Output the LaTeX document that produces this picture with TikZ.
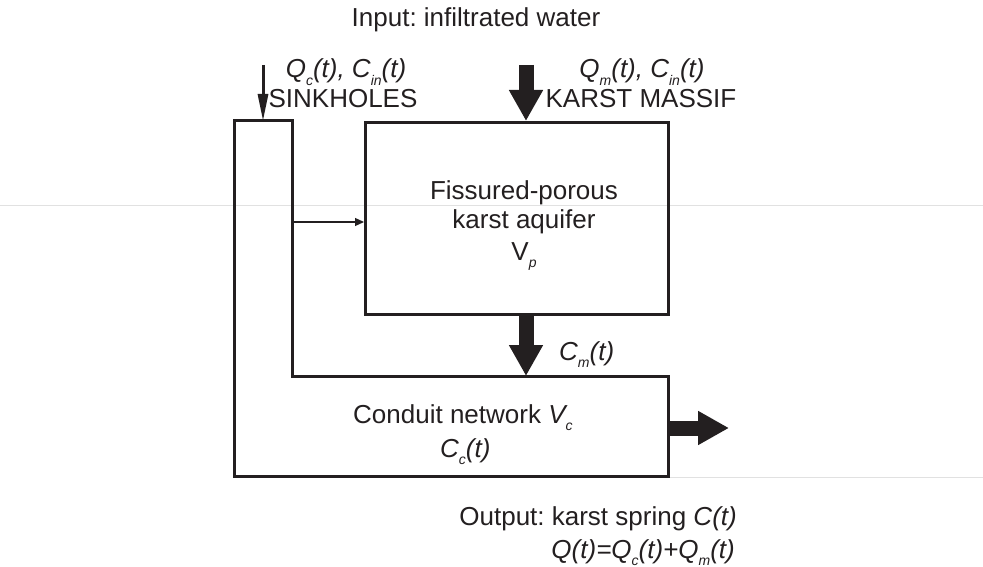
\documentclass[tikz,border=0pt]{standalone}
\usepackage{fontspec}
\setmainfont{Liberation Sans}
\usetikzlibrary{arrows.meta}
\definecolor{ink}{RGB}{35,31,32}
\definecolor{faint}{RGB}{225,225,225}
\newcommand\sbs[1]{\raisebox{-0.28em}{\fontsize{14}{14}\selectfont #1}}
\frenchspacing
\begin{document}
\begin{tikzpicture}[x=1pt,y=-1pt,
  wall/.style={draw=ink, line width=3pt, line join=miter},
  bigarrow/.style={draw=ink, line width=15pt, -{Triangle[length=31pt,width=32pt]}},
  thinarrow/.style={draw=ink, line width=1.2pt, -{Triangle[length=9pt,width=8pt]}},
  sinkarrow/.style={draw=ink, line width=3pt, -{Triangle[length=27pt,width=10pt]}},
  lbl/.style={font=\fontsize{26}{30}\selectfont, text=ink, inner sep=0pt, anchor=base}]
\useasboundingbox (0,0) rectangle (983,567);
% faint scan lines
\draw[faint, line width=0.8pt] (0,205) -- (983,205);
\draw[faint, line width=1pt] (668,477) -- (983,477);
% fissured-porous aquifer box
\node[wall, minimum width=303pt, minimum height=192pt, anchor=north west, inner sep=0pt] (aq) at (364,121) {};
% conduit network (L-shape)
\coordinate (c1) at (234,121);
\coordinate (c2) at (292,121);
\coordinate (c3) at (292,376);
\coordinate (c4) at (668,376);
\coordinate (c5) at (668,476);
\coordinate (c6) at (234,476);
\draw[wall] (c1) -- (c2) -- (c3) -- (c4) -- (c5) -- (c6) -- cycle;
% arrow anchors
\coordinate (sink) at (263,65);
\coordinate (kin) at (526,65);
\coordinate (lat) at (292,222);
\coordinate (cout) at (668,428);
\coordinate (spring) at (729,428);
\draw[sinkarrow] (sink) -- (sink |- c1);
\draw[bigarrow] (kin) -- (kin |- aq.north);
\draw[bigarrow] (kin |- aq.south) -- (kin |- c4);
\draw[thinarrow] (lat) -- (lat -| aq.west);
\draw[bigarrow] (cout) -- (spring);
% labels
\node[lbl] (inp) at (476,27) {Input: infiltrated water};
\node[lbl] (qc) at (346,78) {\itshape Q\sbs{c}(t), C\sbs{in}(t)};
\node[lbl] (sh) at (343,108) {SINKHOLES};
\node[lbl] (qm) at (642,78) {\itshape Q\sbs{m}(t), C\sbs{in}(t)};
\node[lbl] (km) at (641,108) {KARST MASSIF};
\node[lbl] (f1) at (524,200) {Fissured-porous};
\node[lbl] (f2) at (524,228) {karst aquifer};
\node[lbl] (f3) at (524,260) {V\sbs{\itshape p}};
\node[lbl, anchor=base west] (cm) at (559,360) {\itshape C\sbs{m}(t)};
\node[lbl, anchor=base west] (cn) at (353,423) {Conduit network \textit{V\sbs{c}}};
\node[lbl, anchor=base west] (cc) at (440,457) {\itshape C\sbs{c}(t)};
\node[lbl, anchor=base east] (o1) at (737,525) {Output: karst spring \textit{C(t)}};
\node[lbl, anchor=base east] (o2) at (735,558) {\itshape Q(t)=Q\sbs{c}(t)+Q\sbs{m}(t)};
\end{tikzpicture}
\end{document}
